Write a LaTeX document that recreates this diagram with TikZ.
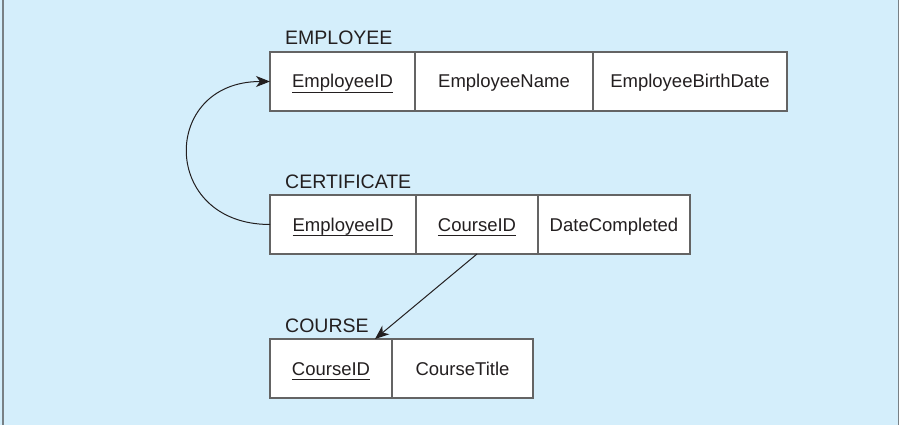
\documentclass[tikz,border=0pt]{standalone}
\usepackage{fontspec}
\setmainfont{Liberation Sans}
\usetikzlibrary{positioning}
\usetikzlibrary{arrows.meta}
\definecolor{panelblue}{RGB}{212,238,251}
\definecolor{framegray}{RGB}{120,128,133}
\definecolor{cellgray}{RGB}{100,100,100}
\definecolor{inkdark}{RGB}{35,31,32}
\newcommand{\keyfield}[1]{\setbox0\hbox{#1}\rlap{\rule[-4.5pt]{\wd0}{0.9pt}}\box0}

\begin{document}
\begin{tikzpicture}[
  x=1pt, y=-1pt,
  every node/.style={font=\fontsize{18.5}{22}\selectfont, text=inkdark},
  cell/.style={
    draw=cellgray, fill=white, line width=1.1pt,
    minimum height=59pt, text height=13pt, text depth=0pt,
    inner sep=0pt, outer sep=0pt
  },
  tablename/.style={font=\fontsize{19.5}{23}\selectfont, inner sep=0pt},
  fk/.style={-{Stealth[length=14pt,width=11pt,inset=4pt]}, draw=inkdark, line width=1pt}
]

% Background
\fill[panelblue] (0,0) rectangle (899,425);
\useasboundingbox (0,0) rectangle (899,425);
\draw[framegray, line width=2pt] (3,0) -- (3,425);
\draw[framegray, line width=1.5pt] (898.3,0) -- (898.3,425);

% Nodes
\node[cell, minimum width=145pt, anchor=north west] (emp1) at (270,52) {\keyfield{EmployeeID}};
\node[cell, minimum width=178pt, right=0pt of emp1] (emp2) {EmployeeName};
\node[cell, minimum width=194pt, right=0pt of emp2] (emp3) {EmployeeBirthDate};
\node[tablename, above right=7pt and 15pt of emp1.north west, anchor=base west] (emplabel) {EMPLOYEE};

\node[cell, minimum width=146pt, anchor=north west] (cert1) at (270,195) {\keyfield{EmployeeID}};
\node[cell, minimum width=122pt, right=0pt of cert1] (cert2) {\keyfield{CourseID}};
\node[cell, minimum width=152pt, right=0pt of cert2] (cert3) {DateCompleted};
\node[tablename, above right=7pt and 15pt of cert1.north west, anchor=base west] (certlabel) {CERTIFICATE};

\node[cell, minimum width=122pt, anchor=north west] (course1) at (270,339) {\keyfield{CourseID}};
\node[cell, minimum width=141pt, right=0pt of course1] (course2) {CourseTitle};
\node[tablename, above right=7pt and 15pt of course1.north west, anchor=base west] (courselabel) {COURSE};

% Arrows
\draw[fk] (cert1.west) .. controls +(-110,0) and +(-110,0) .. (emp1.west);
\draw[fk] (cert2.south) -- ([xshift=-17pt]course1.north east);
\end{tikzpicture}
\end{document}
